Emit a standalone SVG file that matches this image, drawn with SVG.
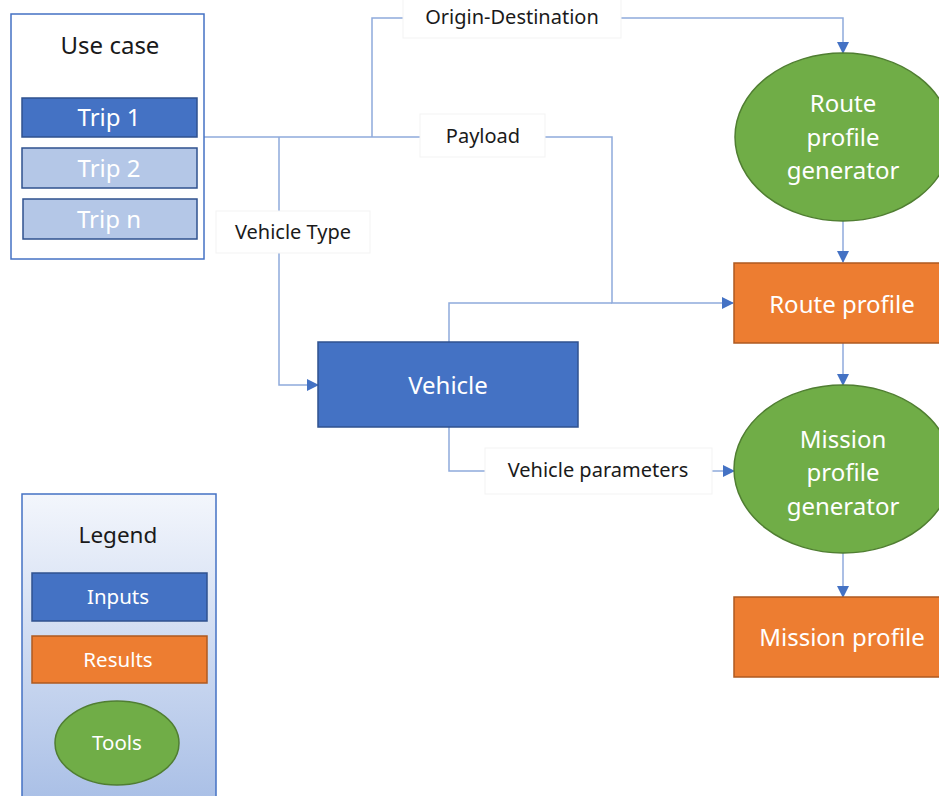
<svg xmlns="http://www.w3.org/2000/svg" width="939" height="796" viewBox="0 0 939 796">
<style>
text{font-family:"Noto Sans","Open Sans","Liberation Sans",sans-serif;text-anchor:middle}
.t24{font-size:24px}
.t22{font-size:22.5px}
.t20{font-size:20.5px}
.t18{font-size:20px;fill:#1a1a1a}
.w{fill:#ffffff}
.k{fill:#1a1a1a}
.blue{fill:#4472C4;stroke:#2F528F;stroke-width:1.5}
.lblue{fill:#B4C7E7;stroke:#2F528F;stroke-width:1.5}
.orange{fill:#ED7D31;stroke:#AE5A21;stroke-width:1.5}
.green{fill:#70AD47;stroke:#507E32;stroke-width:1.5}
.conn{fill:none;stroke:#8FAADC;stroke-width:1.5}
.lbl{fill:#ffffff;stroke:#f3f3f3;stroke-width:1}
</style>
<defs>
<marker id="arr" markerUnits="userSpaceOnUse" markerWidth="12" markerHeight="12" refX="11" refY="6" orient="auto">
<path d="M0,0 L12,6 L0,12 z" fill="#4472C4"/>
</marker>
<linearGradient id="lg" x1="0" y1="0" x2="0" y2="1">
<stop offset="0" stop-color="#F3F6FC"/>
<stop offset="1" stop-color="#A9BFE6"/>
</linearGradient>
</defs>
<rect width="939" height="796" fill="#ffffff"/>

<g id="connectors">
<path class="conn" d="M204,137 H612 V303 H733" marker-end="url(#arr)"/>
<path class="conn" d="M372,137 V18 H843 V53" marker-end="url(#arr)"/>
<path class="conn" d="M279,137 V385 H318" marker-end="url(#arr)"/>
<path class="conn" d="M449,342 V303 H612"/>
<path class="conn" d="M449,427 V471 H734" marker-end="url(#arr)"/>
<path class="conn" d="M843,221 V262" marker-end="url(#arr)"/>
<path class="conn" d="M843,343 V385" marker-end="url(#arr)"/>
<path class="conn" d="M843,553 V597" marker-end="url(#arr)"/>
<g id="labels">
<rect class="lbl" x="403" y="-1" width="218" height="39"/>
<text class="t18" x="512" y="24">Origin-Destination</text>
<rect class="lbl" x="420" y="114" width="125" height="43"/>
<text class="t18" x="483" y="143">Payload</text>
<rect class="lbl" x="216" y="211" width="154" height="42"/>
<text class="t18" x="293" y="239">Vehicle Type</text>
<rect class="lbl" x="485" y="448" width="227" height="46"/>
<text class="t18" x="598" y="477">Vehicle parameters</text>
</g>
</g>

<g id="use-case">
<rect x="11" y="14" width="193" height="245" fill="#ffffff" stroke="#4472C4" stroke-width="1.5"/>
<text class="t24 k" x="110" y="54">Use case</text>
</g>
<g id="trip1">
<rect class="blue" x="22" y="98" width="175" height="39"/>
<text class="t24 w" x="109" y="126">Trip 1</text>
</g>
<g id="trip2">
<rect class="lblue" x="22" y="148" width="175" height="40"/>
<text class="t24 w" x="109" y="177">Trip 2</text>
</g>
<g id="tripn">
<rect class="lblue" x="23" y="199" width="174" height="40"/>
<text class="t24 w" x="109" y="228">Trip n</text>
</g>

<g id="route-profile-generator">
<ellipse class="green" cx="843" cy="137" rx="108" ry="84"/>
<text class="t24 w" x="843" y="112">Route</text>
<text class="t24 w" x="843" y="146">profile</text>
<text class="t24 w" x="843" y="179">generator</text>
</g>
<g id="route-profile">
<rect class="orange" x="734" y="263" width="215" height="80"/>
<text class="t24 w" x="842" y="313">Route profile</text>
</g>
<g id="vehicle">
<rect class="blue" x="318" y="342" width="260" height="85"/>
<text class="t24 w" x="448" y="394">Vehicle</text>
</g>
<g id="mission-profile-generator">
<ellipse class="green" cx="843" cy="469" rx="109" ry="84"/>
<text class="t24 w" x="843" y="448">Mission</text>
<text class="t24 w" x="843" y="481">profile</text>
<text class="t24 w" x="843" y="515">generator</text>
</g>
<g id="mission-profile">
<rect class="orange" x="734" y="597" width="215" height="80"/>
<text class="t24 w" x="842" y="646">Mission profile</text>
</g>

<g id="legend">
<rect x="22" y="494" width="194" height="310" fill="url(#lg)" stroke="#4472C4" stroke-width="1.5"/>
<text class="t22 k" x="118" y="543">Legend</text>
</g>
<g id="legend-inputs">
<rect class="blue" x="32" y="573" width="175" height="48"/>
<text class="t20 w" x="118" y="604">Inputs</text>
</g>
<g id="legend-results">
<rect class="orange" x="32" y="636" width="175" height="47"/>
<text class="t20 w" x="118" y="667">Results</text>
</g>
<g id="legend-tools">
<ellipse class="green" cx="117" cy="743" rx="62" ry="42"/>
<text class="t20 w" x="117" y="750">Tools</text>
</g>
</svg>
